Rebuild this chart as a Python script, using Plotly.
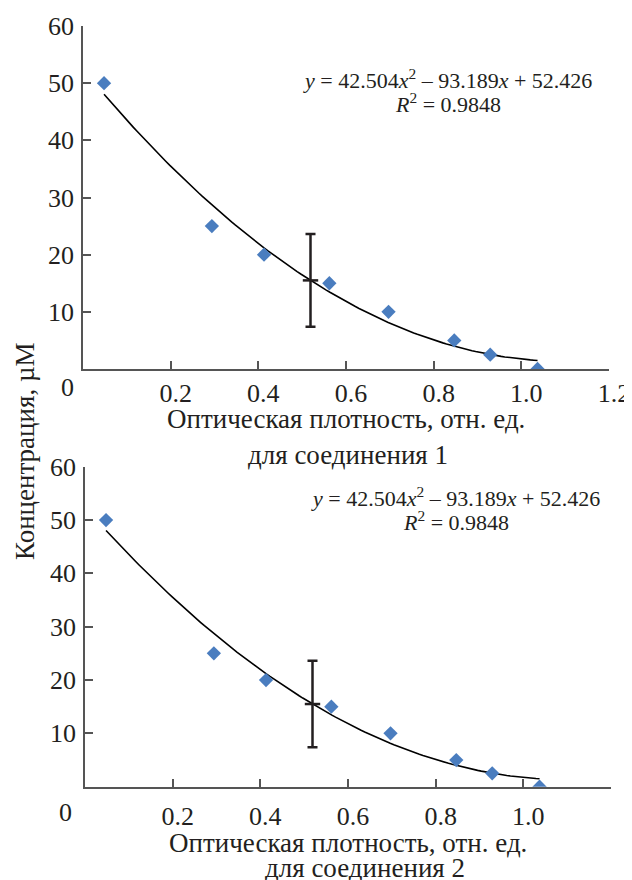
import numpy as np
import plotly.graph_objects as go

# Data — identical for both compounds
od_1 = [0.048, 0.294, 0.413, 0.562, 0.697, 0.847, 0.929, 1.037]
conc_1 = [50, 25, 20, 15, 10, 5, 2.5, 0]
od_2 = [0.048, 0.294, 0.413, 0.562, 0.697, 0.847, 0.929, 1.037]
conc_2 = [50, 25, 20, 15, 10, 5, 2.5, 0]

# Trendline coefficients printed on the chart: y = a x^2 + b x + c
coef = [42.504, -93.189, 52.426]
r2 = 0.9848

# Error bar point (x, y, +/- error)
err_x = [0.519]
err_y = [15.5]
err_val = [8.1]

x_ticks = [0.2, 0.4, 0.6, 0.8, 1.0, 1.2]
x_ticklabels = ["0.2", "0.4", "0.6", "0.8", "1.0", "1.2"]
y_ticks = [10, 20, 30, 40, 50, 60]
y_ticklabels = ["10", "20", "30", "40", "50", "60"]

OFF = 8  # page body margin
W, H = 632 - OFF, 880 - OFF
FONT = "Liberation Serif"
TXT = "#231f20"
AX = "#555555"
MARK = "#4a7dbf"


def px(x):
    return (x - OFF) / W


def py(y):
    return 1 - (y - OFF) / H


fig = go.Figure()

for i, (xs, ys) in enumerate([(od_1, conc_1), (od_2, conc_2)]):
    xa = "x" if i == 0 else "x2"
    ya = "y" if i == 0 else "y2"
    xf = np.linspace(min(xs), max(xs), 120)
    yf = np.polyval(coef, xf)
    fig.add_trace(go.Scatter(x=xf, y=yf, mode="lines", line=dict(color="black", width=1.6),
                             xaxis=xa, yaxis=ya, showlegend=False, hoverinfo="skip"))
    fig.add_trace(go.Scatter(x=xs, y=ys, mode="markers",
                             marker=dict(symbol="diamond", size=11, color=MARK),
                             xaxis=xa, yaxis=ya, showlegend=False))
    fig.add_trace(go.Scatter(x=err_x, y=err_y, mode="markers",
                             marker=dict(symbol="line-ew", size=11, line=dict(color=TXT, width=2.5)),
                             error_y=dict(type="data", array=err_val, visible=True, color=TXT,
                                          thickness=2.5, width=5),
                             xaxis=xa, yaxis=ya, showlegend=False))

axis_common = dict(
    showgrid=False, zeroline=False, showline=True, linecolor=AX, linewidth=1.5,
    ticks="inside", ticklen=8, tickwidth=1.5, tickcolor=AX, automargin=False,
    tickfont=dict(family=FONT, size=26, color=TXT),
)

fig.update_layout(
    template="none",
    width=W, height=H,
    margin=dict(l=0, r=0, t=0, b=0, pad=0),
    paper_bgcolor="white", plot_bgcolor="white",
    xaxis=dict(axis_common, domain=[px(83), px(609)], range=[0, 1.2], anchor="y",
               tickvals=x_ticks, ticktext=x_ticklabels, ticklabelshift=5, ticklabelstandoff=0),
    yaxis=dict(axis_common, domain=[py(369), py(26)], range=[0, 60], anchor="x",
               tickvals=y_ticks, ticktext=y_ticklabels, ticklabelstandoff=2),
    xaxis2=dict(axis_common, domain=[px(85), px(611)], range=[0, 1.2], anchor="y2",
                tickvals=x_ticks, ticktext=x_ticklabels, ticklabelshift=5, ticklabelstandoff=5),
    yaxis2=dict(axis_common, domain=[py(786.7), py(466.7)], range=[0, 60], anchor="x2",
                tickvals=y_ticks, ticktext=y_ticklabels, ticklabelstandoff=2),
)

eq = "<i>y</i> = %.3f<i>x</i><sup>2</sup> – %.3f<i>x</i> + %.3f" % (coef[0], -coef[1], coef[2])
r2t = "<i>R</i><sup>2</sup> = %.4f" % r2


def ann(text, x, y, size=27, angle=0, xanchor="center", yanchor="middle"):
    fig.add_annotation(text=text, x=px(x), y=py(y), xref="paper", yref="paper",
                       showarrow=False, textangle=angle, xanchor=xanchor, yanchor=yanchor,
                       font=dict(family=FONT, size=size, color=TXT))


# equations
ann(eq, 447, 79, size=22)
ann(r2t, 448, 103, size=22)
ann(eq, 455, 497, size=22)
ann(r2t, 456, 521, size=22)

# "0" origin labels
ann("0", 67, 388, size=26)
ann("0", 65, 812, size=26)

# x titles
ann("Оптическая плотность, отн. ед.", 346, 419)
ann("для соединения 1", 348, 455)
ann("Оптическая плотность, отн. ед.", 348, 843)
ann("для соединения 2", 365, 868)

# y title
ann("Концентрация, µМ", 25, 451, angle=-90)

fig.write_html("out.html")
